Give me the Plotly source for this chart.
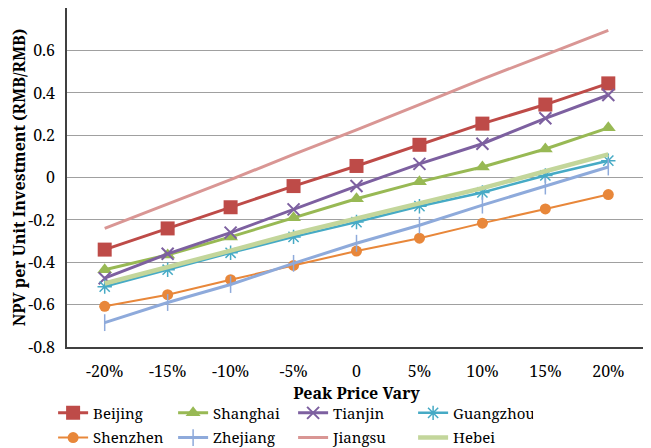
import plotly.graph_objects as go

categories = ["-20%", "-15%", "-10%", "-5%", "0", "5%", "10%", "15%", "20%"]

beijing   = [-0.34, -0.24, -0.14, -0.04, 0.055, 0.155, 0.255, 0.345, 0.445]
shanghai  = [-0.435, -0.365, -0.28, -0.19, -0.10, -0.02, 0.05, 0.135, 0.235]
tianjin   = [-0.475, -0.36, -0.26, -0.15, -0.04, 0.065, 0.16, 0.28, 0.39]
guangzhou = [-0.515, -0.435, -0.355, -0.28, -0.21, -0.135, -0.07, 0.01, 0.08]
shenzhen  = [-0.608, -0.553, -0.482, -0.415, -0.347, -0.286, -0.215, -0.148, -0.08]
zhejiang  = [-0.685, -0.59, -0.505, -0.405, -0.31, -0.225, -0.13, -0.04, 0.05]
jiangsu   = [-0.24, -0.125, -0.01, 0.11, 0.225, 0.345, 0.465, 0.58, 0.695]
hebei     = [-0.50, -0.425, -0.345, -0.265, -0.195, -0.12, -0.05, 0.03, 0.11]

y_ticks = [-0.8, -0.6, -0.4, -0.2, 0, 0.2, 0.4, 0.6, 0.8]
y_ticktext = ["-0.8", "-0.6", "-0.4", "-0.2", "0", "0.2", "0.4", "0.6", "0.8"]

series = [
    ("Beijing", beijing, "#BE4B48", 3, "square", 14, None, "legend"),
    ("Shanghai", shanghai, "#98B954", 3, "triangle-up", 13, None, "legend"),
    ("Tianjin", tianjin, "#7D60A0", 3, "x-thin", 12, 2, "legend"),
    ("Guangzhou", guangzhou, "#46AAC5", 2.5, "asterisk", 12, 1.5, "legend"),
    ("Shenzhen", shenzhen, "#E8873A", 2, "circle", 11, None, "legend2"),
    ("Zhejiang", zhejiang, "#8EAADB", 3, "line-ns", 12, 1.5, "legend2"),
    ("Jiangsu", jiangsu, "#D99694", 3, None, 0, None, "legend2"),
    ("Hebei", hebei, "#C3D69B", 4.5, None, 0, None, "legend2"),
]

fig = go.Figure()
for name, vals, color, lw, sym, size, mlw, leg in series:
    if sym is None:
        fig.add_trace(go.Scatter(x=categories, y=vals, name=name, mode="lines",
                                 line=dict(color=color, width=lw), legend=leg))
    else:
        marker = dict(symbol=sym, size=size, color=color)
        if mlw is not None:
            marker["line"] = dict(color=color, width=mlw)
        fig.add_trace(go.Scatter(x=categories, y=vals, name=name, mode="lines+markers",
                                 line=dict(color=color, width=lw), marker=marker, legend=leg))

font_family = "Noto Serif, DejaVu Serif Condensed, DejaVu Serif, serif"
legend_common = dict(
    orientation="h", xanchor="left", yanchor="middle",
    entrywidth=75, entrywidthmode="pixels", font=dict(size=15, family=font_family),
    tracegroupgap=0, itemwidth=30, bgcolor="rgba(0,0,0,0)",
)
fig.update_layout(
    template="none",
    width=651, height=448,
    margin=dict(l=59, r=13, t=0, b=109, autoexpand=False),
    paper_bgcolor="white", plot_bgcolor="white",
    font=dict(family=font_family, size=16, color="black"),
    xaxis=dict(
        type="category", showgrid=False, showline=True, linecolor="#404040",
        linewidth=1.5, mirror=True, ticks="outside", ticklen=9, tickcolor="rgba(0,0,0,0)",
        tickfont=dict(size=16, family=font_family), automargin=False,
        title=dict(text="<b>Peak Price Vary</b>", font=dict(size=16, family=font_family), standoff=4),
    ),
    yaxis=dict(
        range=[-0.8, 0.801], tickvals=y_ticks, ticktext=y_ticktext,
        showgrid=True, gridcolor="#A0A0A0", gridwidth=1.2,
        showline=True, linecolor="#404040", linewidth=1.5, mirror=True,
        zeroline=False, ticks="outside", ticklen=7, tickcolor="rgba(0,0,0,0)",
        tickfont=dict(size=16, family=font_family), automargin=False,
        title=dict(text="<b>NPV per Unit Investment (RMB/RMB)</b>", font=dict(size=16, family=font_family), standoff=8),
    ),
    legend=dict(x=-0.024, y=-0.195, **legend_common),
    legend2=dict(x=-0.024, y=-0.268, **legend_common),
    showlegend=True,
)

fig.write_html("out.html")
